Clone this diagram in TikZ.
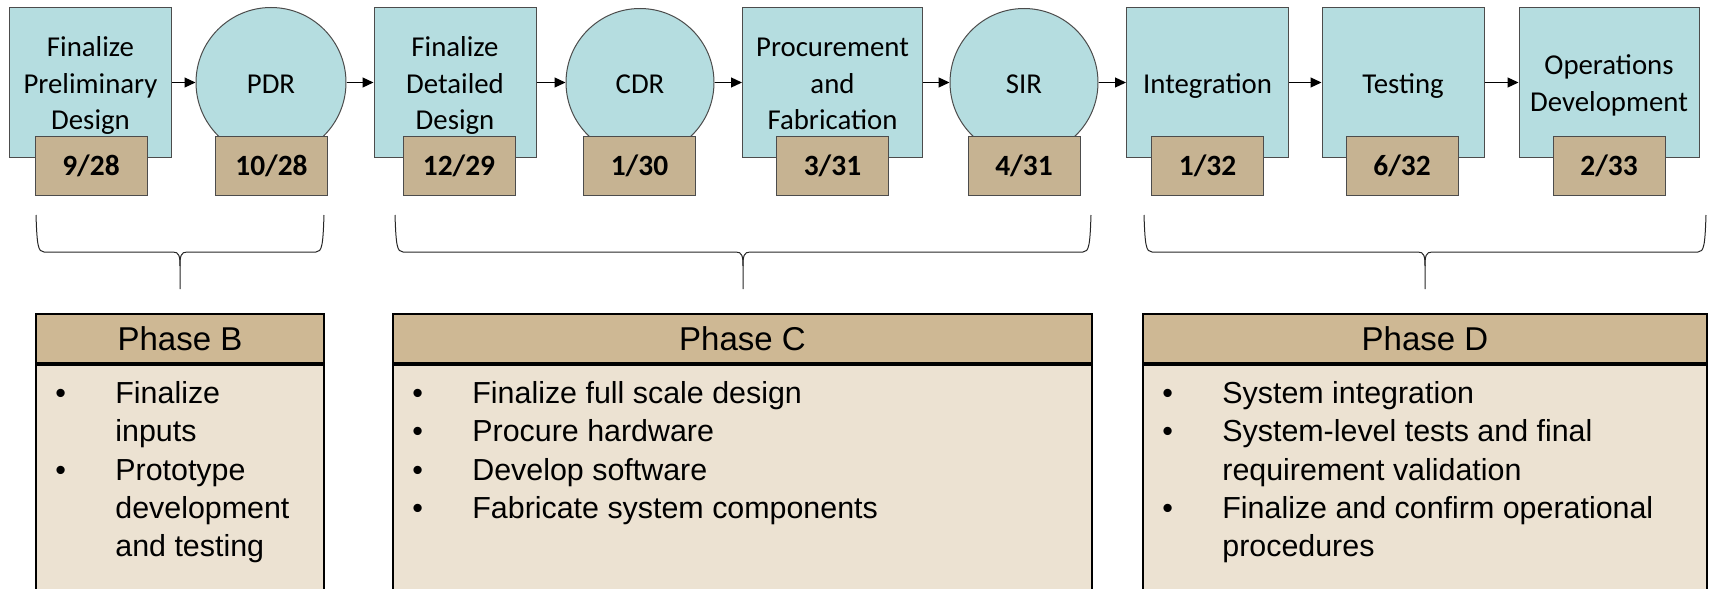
\documentclass[tikz,border=0pt]{standalone}
\usepackage{fontspec}
\setmainfont{Carlito}
\newfontfamily\phasefont{Liberation Sans}
\usetikzlibrary{shapes,arrows.meta}
\usetikzlibrary{calc}

\definecolor{stageblue}{RGB}{181,221,224}
\definecolor{datetan}{RGB}{198,179,146}
\definecolor{headtan}{RGB}{206,184,148}
\definecolor{bodybeige}{RGB}{236,226,210}

% struts so that every milestone text sits at the same height
\newcommand{\topstrut}{\rule{0pt}{14pt}}
\newcommand{\botstrut}{\rule[-3.5pt]{0pt}{0pt}}

% curly brace: left end, tip, right end
\newcommand{\phasebrace}[3]{%
	\draw[braceline] (#1,215) .. controls (#1+1,245) and (#1+2,252) .. (#1+8,252)
		-- (#2-7,252) .. controls (#2-1,252) and (#2,256) .. (#2,266) -- (#2,289);
	\draw[braceline] (#3,215) .. controls (#3-1,245) and (#3-2,252) .. (#3-8,252)
		-- (#2+7,252) .. controls (#2+1,252) and (#2,256) .. (#2,266);
}

\begin{document}
\begin{tikzpicture}[x=0.5pt,y=-0.5pt,
		stage/.style={draw=black!70,line width=0.5pt,fill=stageblue,minimum width=81pt,
			minimum height=75pt,inner sep=0pt,align=center,font=\fontsize{14.4}{18.35}\selectfont},
		review/.style={stage,circle,minimum size=74pt},
		datebox/.style={draw=black!70,line width=0.5pt,fill=datetan,minimum width=56pt,
			minimum height=29.5pt,inner sep=0pt,font=\bfseries\fontsize{14.7}{17}\selectfont},
		flow/.style={-{Triangle[length=5.5pt,width=5pt]},line width=0.6pt},
		braceline/.style={line width=0.5pt,black!85},
		phasehead/.style={draw=black,line width=1pt,fill=headtan,minimum height=24.5pt,
			inner sep=0pt,font=\phasefont\fontsize{16.5}{19}\selectfont},
		phasebody/.style={draw=black,line width=1pt,fill=bodybeige,minimum height=112.5pt,
			inner sep=0pt,anchor=north},
		bullets/.style={anchor=north west,inner sep=0pt,align=left,
			font=\phasefont\fontsize{15.2}{19.15}\selectfont}]
	\useasboundingbox (0,0) rectangle (1709,589);

	% milestones
	\node [stage] (PrelimDesign) at (90.5,82.5) {\topstrut Finalize\\Preliminary\\Design\botstrut};
	\node [review,minimum size=75pt] (PDR) at (271,82.5) {\topstrut PDR\botstrut};
	\node [stage] (DetailDesign) at (455,82.5) {\topstrut Finalize\\Detailed\\Design\botstrut};
	\node [review] (CDR) at (640,82.5) {\topstrut CDR\botstrut};
	\node [stage,minimum width=90pt] (Procure) at (832.5,82.5) {\topstrut Procurement\\and\\Fabrication\botstrut};
	\node [review] (SIR) at (1024,82.5) {\topstrut SIR\botstrut};
	\node [stage] (Integration) at (1207.5,82.5) {\topstrut Integration\botstrut};
	\node [stage] (Testing) at (1403,82.5) {\topstrut Testing\botstrut};
	\node [stage,minimum width=90pt] (OpsDev) at (1609,82.5) {\topstrut Operations\\Development\botstrut};

	% dates
	\node [datebox] (DatePrelim) at (91,166) {9/28};
	\node [datebox] (DatePDR) at (271.5,166) {10/28};
	\node [datebox] (DateDetail) at (459,166) {12/29};
	\node [datebox] (DateCDR) at (639.5,166) {1/30};
	\node [datebox] (DateProcure) at (832.5,166) {3/31};
	\node [datebox] (DateSIR) at (1024,166) {4/31};
	\node [datebox] (DateIntegration) at (1207.5,166) {1/32};
	\node [datebox] (DateTesting) at (1402,166) {6/32};
	\node [datebox] (DateOpsDev) at (1609,166) {2/33};

	\draw[flow] (PrelimDesign) -- (PDR);
	\draw[flow] (PDR) -- (DetailDesign);
	\draw[flow] (DetailDesign) -- (CDR);
	\draw[flow] (CDR) -- (Procure);
	\draw[flow] (Procure) -- (SIR);
	\draw[flow] (SIR) -- (Integration);
	\draw[flow] (Integration) -- (Testing);
	\draw[flow] (Testing) -- (OpsDev);

	\phasebrace{36}{180}{324}
	\phasebrace{395}{743}{1091}
	\phasebrace{1144}{1425}{1706}

	% phase boxes
	\node [phasehead,minimum width=144pt] (PhaseBHead) at (180,338.5) {Phase B};
	\node [phasebody,minimum width=144pt] (PhaseBBody) at (PhaseBHead.south) {};
	\node [bullets] (PhaseBList) at ($(PhaseBBody.north west)+(20,12.2)$)
		{\begin{tabular}{@{}p{30pt}@{}l@{}}
			\textbullet & Finalize\\
			& inputs\\
			\textbullet & Prototype\\
			& development\\
			& and testing
		\end{tabular}};

	\node [phasehead,minimum width=349.5pt] (PhaseCHead) at (742.5,338.5) {Phase C};
	\node [phasebody,minimum width=349.5pt] (PhaseCBody) at (PhaseCHead.south) {};
	\node [bullets] (PhaseCList) at ($(PhaseCBody.north west)+(20,12.2)$)
		{\begin{tabular}{@{}p{30pt}@{}l@{}}
			\textbullet & Finalize full scale design\\
			\textbullet & Procure hardware\\
			\textbullet & Develop software\\
			\textbullet & Fabricate system components
		\end{tabular}};

	\node [phasehead,minimum width=282pt] (PhaseDHead) at (1425,338.5) {Phase D};
	\node [phasebody,minimum width=282pt] (PhaseDBody) at (PhaseDHead.south) {};
	\node [bullets] (PhaseDList) at ($(PhaseDBody.north west)+(20,12.2)$)
		{\begin{tabular}{@{}p{30pt}@{}l@{}}
			\textbullet & System integration\\
			\textbullet & System-level tests and final\\
			& requirement validation\\
			\textbullet & Finalize and confirm operational\\
			& procedures
		\end{tabular}};
\end{tikzpicture}
\end{document}
